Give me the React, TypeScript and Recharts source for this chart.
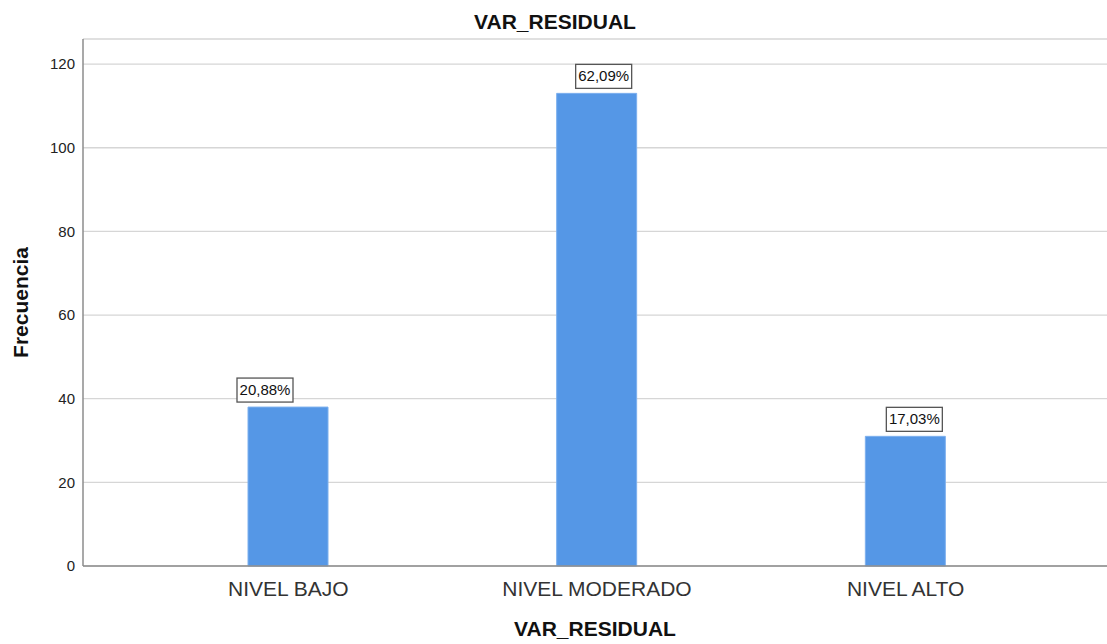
import { BarChart, Bar, XAxis, YAxis, CartesianGrid, LabelList } from "recharts";

const categories = ["NIVEL BAJO", "NIVEL MODERADO", "NIVEL ALTO"];
const frequencies = [38, 113, 31];
const yTicks = [0, 20, 40, 60, 80, 100, 120];

const total = frequencies.reduce((a, b) => a + b, 0);
const data = categories.map((name, i) => ({
  name,
  value: frequencies[i],
  pct: ((frequencies[i] / total) * 100).toFixed(2).replace(".", ",") + "%",
}));

const FONT = "'Liberation Sans', Arial, sans-serif";
// SPSS places the boxed labels a little off-centre
const LABEL_DX = [-23, 7, 9];

function BoxLabel(props: any) {
  const { x, y, width, value, index } = props;
  const cx = x + width / 2 + (LABEL_DX[index] ?? 0);
  const w = 56;
  const h = 24;
  const top = y - 5 - h;
  return (
    <g>
      <rect x={cx - w / 2} y={top} width={w} height={h} fill="#fff" stroke="#555" strokeWidth={1.3} />
      <text x={cx} y={top + h / 2 + 5} textAnchor="middle" fontSize={15} fontFamily={FONT} fill="#111">
        {value}
      </text>
    </g>
  );
}

export default function App() {
  return (
    <div style={{ position: "absolute", left: 0, top: 0, width: 1107, height: 644, background: "#fff" }}>
      <BarChart width={1107} height={644} data={data} margin={{ top: 39, right: 0, bottom: 0, left: 0 }}>
        <CartesianGrid vertical={false} stroke="#d6d6d6" strokeWidth={1.3} />
        <XAxis
          dataKey="name"
          height={78}
          padding={{ left: 51, right: 47 }}
          tickLine={false}
          tickSize={0}
          tickMargin={15}
          stroke="#8c8c8c"
          strokeWidth={1.5}
          tick={{ fontSize: 21, fontFamily: FONT, fill: "#333" }}
          label={{
            content: (p: any) => (
              <text
                x={p.viewBox.x + p.viewBox.width / 2}
                y={636}
                textAnchor="middle"
                fontSize={21}
                fontWeight="bold"
                fontFamily={FONT}
                fill="#111"
              >
                VAR_RESIDUAL
              </text>
            ),
          }}
        />
        <YAxis
          width={83}
          domain={[0, 126]}
          ticks={yTicks}
          tickLine={false}
          tickSize={0}
          tickMargin={8}
          stroke="#8c8c8c"
          strokeWidth={1.5}
          tick={{ fontSize: 15, fontFamily: FONT, fill: "#222" }}
          label={{
            content: (p: any) => {
              const cy = p.viewBox.y + p.viewBox.height / 2;
              return (
                <text
                  x={28}
                  y={cy}
                  transform={`rotate(-90, 28, ${cy})`}
                  textAnchor="middle"
                  fontSize={21}
                  fontWeight="bold"
                  fontFamily={FONT}
                  fill="#111"
                >
                  Frecuencia
                </text>
              );
            },
          }}
        />
        <Bar dataKey="value" fill="#5597e6" stroke="#7db0ee" strokeWidth={1} barSize={80} isAnimationActive={false}>
          <LabelList dataKey="pct" content={BoxLabel} />
        </Bar>
      </BarChart>
      <svg width={1107} height={40} style={{ position: "absolute", left: 0, top: 0, pointerEvents: "none" }}>
        <text x={555} y={29} textAnchor="middle" fontSize={21} fontWeight="bold" fontFamily={FONT} fill="#111">
          VAR_RESIDUAL
        </text>
      </svg>
    </div>
  );
}
